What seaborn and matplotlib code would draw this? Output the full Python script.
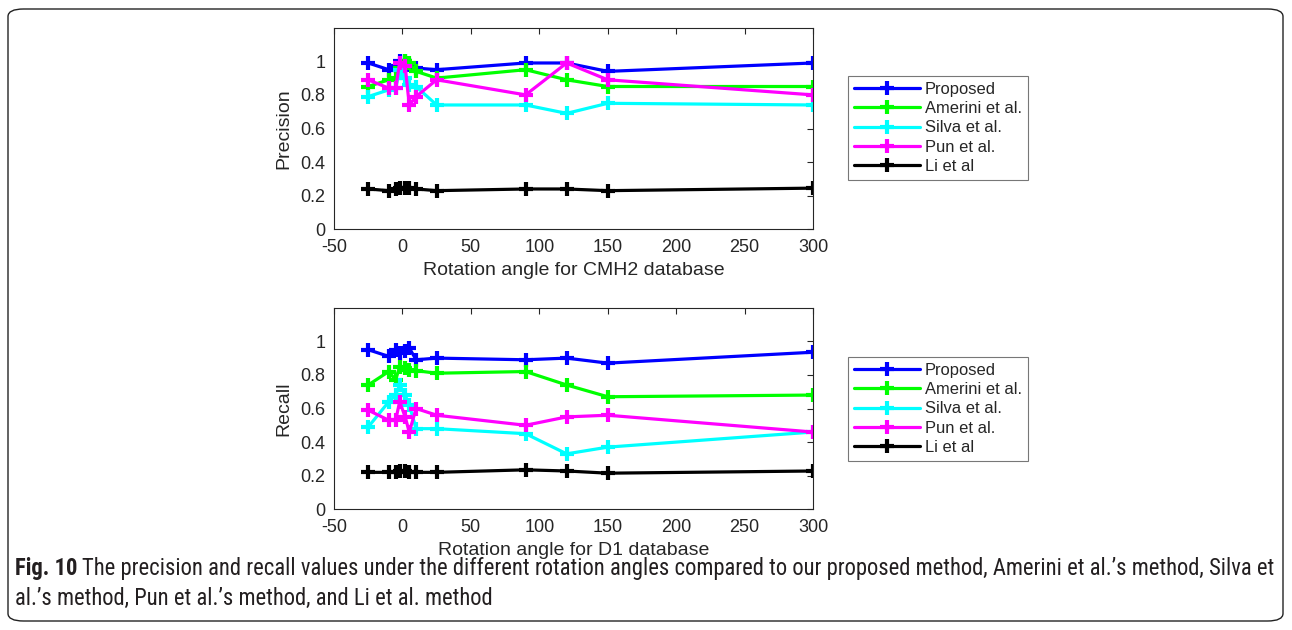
import matplotlib
matplotlib.use('Agg')
import matplotlib.pyplot as plt
import seaborn as sns
from matplotlib.patches import FancyBboxPatch

# rotation angles (shared by both panels)
angles = [-25, -10, -5, -2, 2, 5, 10, 25, 90, 120, 150, 300]

methods = ['Proposed', 'Amerini et al.', 'Silva et al.', 'Pun et al.', 'Li et al']
colors = ['#0000ff', '#00ff00', '#00ffff', '#ff00ff', '#000000']

# precision, CMH2 database
prec_proposed = [0.99, 0.95, 0.97, 1.00, 1.00, 0.98, 0.96, 0.95, 0.99, 0.99, 0.94, 0.99]
prec_amerini = [0.85, 0.89, 0.90, 0.96, 1.00, 0.99, 0.94, 0.90, 0.95, 0.89, 0.85, 0.85]
prec_silva = [0.79, 0.83, 0.84, 0.95, 0.90, 0.86, 0.85, 0.74, 0.74, 0.69, 0.75, 0.74]
prec_pun = [0.89, 0.84, 0.84, 0.99, 0.97, 0.74, 0.79, 0.89, 0.80, 0.99, 0.89, 0.80]
prec_li = [0.24, 0.23, 0.24, 0.245, 0.245, 0.245, 0.24, 0.23, 0.24, 0.24, 0.23, 0.245]

# recall, D1 database
rec_proposed = [0.95, 0.91, 0.95, 0.93, 0.94, 0.96, 0.89, 0.90, 0.89, 0.90, 0.87, 0.935]
rec_amerini = [0.74, 0.82, 0.77, 0.85, 0.84, 0.83, 0.825, 0.81, 0.82, 0.74, 0.67, 0.68]
rec_silva = [0.49, 0.64, 0.68, 0.74, 0.68, 0.62, 0.48, 0.48, 0.45, 0.33, 0.37, 0.46]
rec_pun = [0.59, 0.53, 0.53, 0.64, 0.55, 0.46, 0.60, 0.56, 0.50, 0.55, 0.56, 0.46]
rec_li = [0.22, 0.22, 0.22, 0.23, 0.23, 0.225, 0.22, 0.22, 0.235, 0.228, 0.215, 0.228]

precision = [prec_proposed, prec_amerini, prec_silva, prec_pun, prec_li]
recall = [rec_proposed, rec_amerini, rec_silva, rec_pun, rec_li]

sns.set_style('white')
plt.rcParams['font.family'] = ['Liberation Sans', 'DejaVu Sans']
plt.rcParams['axes.unicode_minus'] = False

W, H = 1292, 630
fig = plt.figure(figsize=(W / 100, H / 100), dpi=100)

# outer frame of the figure
frame = FancyBboxPatch((8 / W, 9 / H), 1275 / W, 612 / H,
                       boxstyle='round,pad=0,rounding_size=0.012',
                       transform=fig.transFigure, fill=False,
                       edgecolor='#222222', linewidth=1.0)
fig.patches.append(frame)

ax_top = fig.add_axes([334 / W, 1 - 229.3 / H, 479 / W, 201.6 / H])
ax_bot = fig.add_axes([334 / W, 1 - 509.3 / H, 479 / W, 201.6 / H])

panels = [
    (ax_top, precision, 'Precision', 'Rotation angle for CMH2 database', 76),
    (ax_bot, recall, 'Recall', 'Rotation angle for D1 database', 357),
]

for ax, data, ylab, xlab, leg_top in panels:
    for name, vals, c in zip(methods, data, colors):
        sns.lineplot(x=angles, y=vals, ax=ax, color=c, label=name,
                     linewidth=2.3, marker='+', markersize=10,
                     markeredgewidth=3, markeredgecolor=c)
    ax.set_xlim(-50, 300)
    ax.set_ylim(0, 1.2)
    ax.set_xticks(range(-50, 301, 50))
    ax.set_yticks([0, 0.2, 0.4, 0.6, 0.8, 1])
    ax.set_yticklabels(['0', '0.2', '0.4', '0.6', '0.8', '1'])
    ax.tick_params(direction='in', top=True, right=True, length=4,
                   labelsize=13, colors='#262626', labelcolor='#262626')
    ax.tick_params(axis='x', pad=7)
    ax.tick_params(axis='y', pad=6)
    for s in ax.spines.values():
        s.set_visible(True)
        s.set_color('#262626')
        s.set_linewidth(0.8)
    ax.set_xlabel(xlab, fontsize=14, color='#262626', labelpad=4)
    ax.set_ylabel(ylab, fontsize=14, color='#262626', labelpad=6)
    leg = ax.legend(loc='upper left', bbox_to_anchor=(848 / W, 1 - leg_top / H),
                    bbox_transform=fig.transFigure, borderaxespad=0,
                    fontsize=11.9, handlelength=4.0, handletextpad=0.3,
                    labelspacing=0.26, fancybox=False, frameon=True,
                    borderpad=0.35)
    leg.get_frame().set_edgecolor('#555555')
    leg.get_frame().set_linewidth(0.8)

# caption, shrunk until the first line fits inside the frame
cap_font = ['DejaVu Sans Condensed', 'Roboto Condensed', 'Roboto', 'DejaVu Sans']
line1 = ('The precision and recall values under the different rotation angles compared to our proposed method, '
         'Amerini et al.\u2019s method, Silva et')
line2 = 'al.\u2019s method, Pun et al.\u2019s method, and Li et al. method'
size = 17
while True:
    t1 = fig.text(15 / W, 1 - 568 / H, 'Fig. 10', fontsize=size, fontweight='bold',
                  family=cap_font, va='center', color='#231f20')
    fig.canvas.draw()
    bb = t1.get_window_extent()
    t2 = fig.text((bb.x1 + 5) / W, 1 - 568 / H, line1, fontsize=size,
                  family=cap_font, va='center', color='#231f20')
    fig.canvas.draw()
    if t2.get_window_extent().x1 <= 1277 or size < 9:
        break
    t1.remove()
    t2.remove()
    size -= 0.1
fig.text(15 / W, 1 - 598 / H, line2, fontsize=size,
         family=cap_font, va='center', color='#231f20')

fig.savefig('out.png', dpi=100)
